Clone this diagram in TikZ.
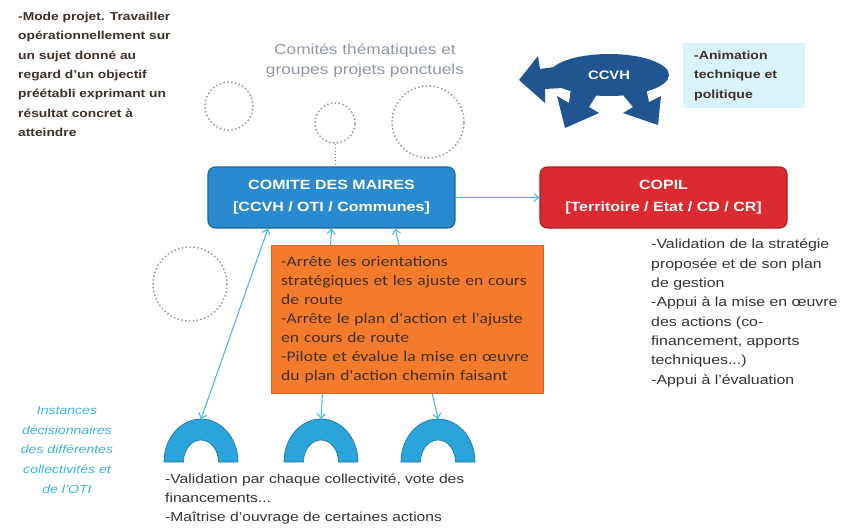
\documentclass[tikz,border=0pt]{standalone}
\usepackage{fontspec}
\setmainfont[FakeStretch=1.2]{Liberation Sans}
\newfontfamily\orangefont[FakeStretch=1.2]{Carlito}
\usepackage{tikz}
\usetikzlibrary{arrows.meta}
\usetikzlibrary{calc,positioning}
\definecolor{comiteblue}{HTML}{2A8AD0}
\definecolor{copilred}{HTML}{DC2B30}
\definecolor{actorange}{HTML}{F47B2B}
\definecolor{archblue}{HTML}{2AA4DA}
\definecolor{linkblue}{HTML}{45B8E2}
\definecolor{ccvhblue}{HTML}{1F5591}
\definecolor{animcyan}{HTML}{D8F3F9}
\definecolor{themegray}{HTML}{9095AA}
\definecolor{textbrown}{HTML}{3E3028}
\definecolor{instcyan}{HTML}{3DB3DB}

\begin{document}
\begin{tikzpicture}[x=0.03cm,y=-0.03cm,
	mainbox/.style={rectangle,rounded corners=1.2ex,draw,line width=1pt,text=white,font=\bfseries\fontsize{11.4}{19}\selectfont,align=center,minimum width=7.41cm,minimum height=1.83cm},
	grpnode/.style={circle,draw=gray!80,line width=1.8pt,dash pattern=on 0pt off 3.3pt,line cap=round,inner sep=0pt},
	desc/.style={align=left,inner sep=0pt,anchor=north west,text=textbrown},
	link/.style={draw=linkblue,line width=0.9pt,{Straight Barb[length=4pt,width=7pt]}-{Straight Barb[length=4pt,width=7pt]}},
	archfill/.style={fill=archblue,draw=archblue!75!black,line width=0.6pt},
	%ccvh/.style={fill=ccvhblue},
	]
	\useasboundingbox (0,0) rectangle (842,527);

	\node (mode) [desc,font=\bfseries\fontsize{9.8}{16.5}\selectfont] at (18,12) {-Mode projet. Travailler\\op\'erationnellement sur\\un sujet donn\'e au\\regard d'un objectif\\pr\'e\'etabli exprimant un\\r\'esultat concret \`a\\atteindre};

	\node (theme) [font=\fontsize{12.3}{17}\selectfont,text=themegray,align=center] at (365,61) {Comités thématiques et\\groupes projets ponctuels};
	\node (grp1) [grpnode,minimum size=1.44cm] at (229,106) {};
	\node (grp2) [grpnode,minimum size=1.2cm] at (335,123) {};
	\node (grp3) [grpnode,minimum size=2.16cm] at (428,122) {};
	\node (grp4) [grpnode,minimum size=2.22cm] at (190,284) {};

	% CCVH
	\fill[ccvhblue] (609,75) ellipse[x radius=60,y radius=21];
	\fill[ccvhblue] (519,80) -- (538,56) -- (540,69) -- (562,66) -- (562,88) -- (545,89) -- (545,103) -- cycle;
	\fill[ccvhblue] (571,88) -- (601,88) -- (589,107) -- (599,113) -- (565,128) -- (557,96) -- (569,103) -- cycle;
	\fill[ccvhblue] (617,88) -- (646,88) -- (649,102) -- (661,96) -- (658,125) -- (623,113) -- (633,107) -- cycle;
	\node (ccvh) [text=white,font=\bfseries\fontsize{10.5}{12}\selectfont] at (609,75) {CCVH};
	\node (anim) [fill=animcyan,anchor=north west,minimum width=3.66cm,minimum height=1.95cm,text width=3cm,inner xsep=0.33cm,align=left,font=\bfseries\fontsize{10}{16.5}\selectfont,text=textbrown] at (683,43) {-Animation\\technique et\\politique};

	\node (comite) [mainbox,fill=comiteblue,draw=comiteblue!75!black] at (331.5,197.5) {COMITE DES MAIRES\\{[CCVH / OTI / Communes]}};
	\node (copil) [mainbox,fill=copilred,draw=copilred!75!black] at (663.5,197.5) {COPIL\\{[Territoire / Etat / CD / CR]}};
	\draw[-{Straight Barb[length=4pt,width=7pt]},linkblue,line width=0.9pt] (comite) -- (copil);
	\draw[dotted,gray,line width=0.8pt] (grp2) -- (grp2 |- comite.north);

	\node (copildesc) [desc,text=black!80,font=\fontsize{11.3}{16.5}\selectfont] at (651,239) {-Validation de la stratégie\\proposée et de son plan\\de gestion\\-Appui à la mise en œuvre\\des actions (co-\\financement, apports\\techniques...)\\-Appui à l'évaluation};

	% instances
	\foreach \n/\x in {1/201,2/321,3/438}{
		\fill[archfill] (\x-37,462) arc[start angle=180,end angle=360,x radius=37,y radius=43] -- (\x+17.5,462) arc[start angle=360,end angle=180,x radius=17.5,y radius=22] -- cycle;
		\coordinate (arch\n) at (\x,419);
	}
	\draw[link] (arch1) -- ($(comite.south west)!0.244!(comite.south east)$);
	\draw[link] (comite.south) -- (arch2);
	\draw[link] ($(comite.south west)!0.757!(comite.south east)$) -- (arch3);

	\node (actions) [anchor=north west,fill=actorange,draw=actorange!85!black,minimum height=4.44cm,text width=7.56cm,inner xsep=0.3cm,align=left,font=\orangefont\fontsize{12.5}{16.2}\selectfont,text=textbrown] at (271,245) {-Arrête les orientations\\stratégiques et les ajuste en cours\\de route\\-Arrête le plan d'action et l'ajuste\\en cours de route\\-Pilote et évalue la mise en œuvre\\du plan d'action chemin faisant};

	\node (inst) [text=instcyan,font=\itshape\fontsize{10}{17}\selectfont,align=center] at (67,450) {Instances\\décisionnaires\\des différentes\\collectivités et\\de l'OTI};
	\node (vote) [desc,text=black!80,font=\fontsize{11.1}{16.2}\selectfont] at (165,474) {-Validation par chaque collectivité, vote des\\financements...\\-Maîtrise d'ouvrage de certaines actions};
\end{tikzpicture}
\end{document}
